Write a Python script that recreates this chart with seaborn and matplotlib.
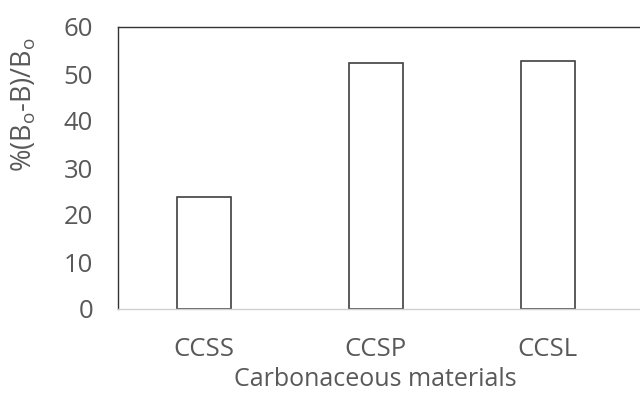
import matplotlib
matplotlib.use("Agg")
import matplotlib.pyplot as plt
import pandas as pd
import seaborn as sns

# values
materials = ["CCSS", "CCSP", "CCSL"]
reduction = [23.8, 52.4, 52.8]

df = pd.DataFrame({"material": materials, "reduction": reduction})

sns.set_style("white")
plt.rcParams["font.family"] = ["Open Sans", "DejaVu Sans"]
plt.rcParams["mathtext.fontset"] = "custom"
plt.rcParams["mathtext.rm"] = "Open Sans"

grey = "#595959"

fig = plt.figure(figsize=(6.4, 3.98), dpi=100)
ax = fig.add_axes([118 / 640, 1 - 309 / 398, 1 - 118 / 640, 282 / 398])

sns.barplot(x="material", y="reduction", data=df, order=materials, color="white",
            edgecolor="#404040", linewidth=1.2, width=0.314, ax=ax)

ax.set_ylim(0, 60)
ax.set_yticks(range(0, 61, 10))
ax.set_xlim(-0.5, 2.535)

ax.spines["top"].set_color("#333333")
ax.spines["left"].set_color("#333333")
ax.spines["bottom"].set_color("#d0d0d0")
ax.spines["right"].set_visible(False)
for s in ["top", "left", "bottom"]:
    ax.spines[s].set_visible(True)
    ax.spines[s].set_linewidth(1.0)

ax.tick_params(axis="both", length=0, labelsize=18.5, labelcolor=grey)
ax.tick_params(axis="y", pad=18)
ax.tick_params(axis="x", pad=20)

ax.set_xlabel("Carbonaceous materials", fontsize=18, color=grey)
ax.set_ylabel(r"%(B$_\mathrm{o}$-B)/B$_\mathrm{o}$", fontsize=19.5, color=grey)
ax.yaxis.set_label_coords(-0.153, 0.723)
ax.xaxis.set_label_coords((375 - 118) / 522, -0.205)

fig.savefig("out.png", dpi=100)
